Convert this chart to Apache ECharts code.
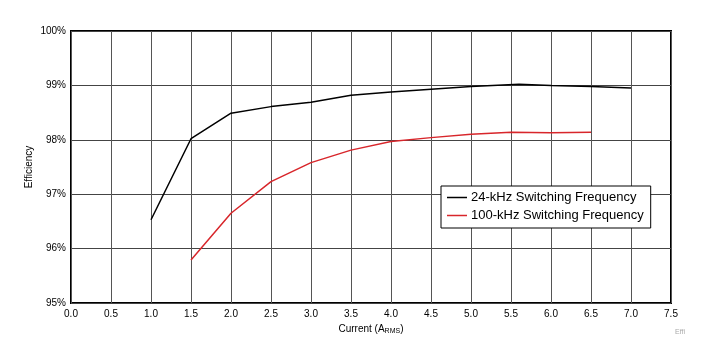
<!DOCTYPE html>
<html>
<head>
<meta charset="utf-8">
<script src="https://cdn.jsdelivr.net/npm/echarts@6/dist/echarts.min.js"></script>
<style>html,body{margin:0;padding:0;background:#fff;}#c{width:703px;height:356px;}</style>
</head>
<body>
<div id="c"></div>
<script>
const seriesNames = ['24-kHz Switching Frequency', '100-kHz Switching Frequency'];
const yTitle = 'Efficiency';
const current24 = [1.0, 1.5, 2.0, 2.5, 3.0, 3.5, 4.0, 4.5, 5.0, 5.6, 6.0, 6.5, 7.0];
const eff24 = [96.53, 98.02, 98.49, 98.61, 98.69, 98.82, 98.88, 98.93, 98.98, 99.02, 99.00, 98.98, 98.95];
const current100 = [1.5, 2.0, 2.5, 3.0, 3.5, 4.0, 4.5, 5.0, 5.5, 6.0, 6.5];
const eff100 = [95.79, 96.65, 97.23, 97.58, 97.81, 97.97, 98.04, 98.10, 98.14, 98.13, 98.14];

const font = 'Liberation Sans, Arial, Helvetica, sans-serif';
const chart = echarts.init(document.getElementById('c'));
chart.setOption({
  animation: false,
  backgroundColor: '#fff',
  grid: { left: 71, right: 32, top: 31, bottom: 53, show: true, borderColor: '#000', borderWidth: 2, backgroundColor: 'transparent' },
  xAxis: {
    type: 'value', min: 0, max: 7.5, interval: 0.5,
    name: '{a|Current (A}{s|RMS}{a|)}', nameLocation: 'middle', nameGap: 20,
    nameTextStyle: { rich: { a: { fontSize: 10, fontFamily: font, color: '#000' }, s: { fontSize: 7, fontFamily: font, color: '#000', padding: [5, 0, 0, 0] } } },
    axisLine: { show: false }, axisTick: { show: false },
    axisLabel: { color: '#000', fontSize: 10, fontFamily: font, margin: 6, formatter: v => v.toFixed(1) },
    splitLine: { show: true, lineStyle: { color: '#555', width: 1 } }
  },
  yAxis: {
    type: 'value', min: 95, max: 100, interval: 1,
    axisLine: { show: false }, axisTick: { show: false },
    axisLabel: { color: '#000', fontSize: 10, fontFamily: font, margin: 5, formatter: v => v + '%' },
    splitLine: { show: true, lineStyle: { color: '#444', width: 1 } }
  },
  legend: {
    data: seriesNames, left: 441, top: 186, orient: 'vertical', itemGap: 5,
    backgroundColor: '#fff', borderColor: '#000', borderWidth: 1, padding: [5, 7, 6, 6],
    itemWidth: 20, itemHeight: 10, icon: 'path://M0,4L20,4L20,5.5L0,5.5Z',
    textStyle: { fontSize: 13, fontFamily: font, color: '#000', padding: [0, 0, 0, -1] }
  },
  series: [
    { name: seriesNames[0], type: 'line', data: current24.map((x, i) => [x, eff24[i]]), showSymbol: false, symbol: 'none', lineStyle: { color: '#000', width: 1.5 }, itemStyle: { color: '#000' }, z: 3 },
    { name: seriesNames[1], type: 'line', data: current100.map((x, i) => [x, eff100[i]]), showSymbol: false, symbol: 'none', lineStyle: { color: '#d8262b', width: 1.5 }, itemStyle: { color: '#d8262b' }, z: 3 }
  ],
  graphic: [
    { type: 'text', x: 29, y: 167, rotation: Math.PI / 2, style: { text: yTitle, fontSize: 10, fontFamily: font, fill: '#000', align: 'center', verticalAlign: 'middle' } },
    { type: 'text', left: 675, top: 329, style: { text: 'Effi', fontSize: 7, fontFamily: font, fill: '#aaa' } }
  ]
});
</script>
</body>
</html>
